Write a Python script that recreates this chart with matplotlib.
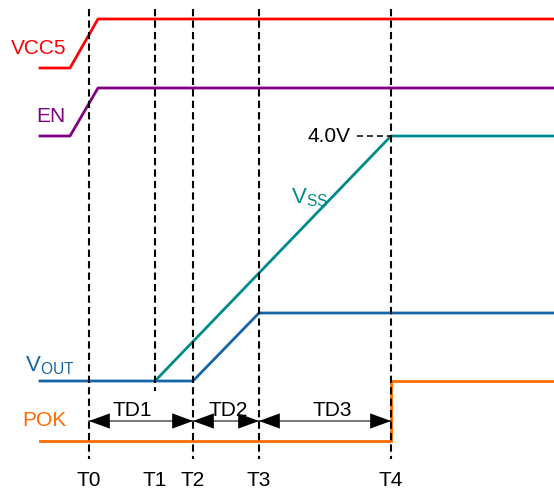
import matplotlib.pyplot as plt
from matplotlib.patches import FancyArrowPatch

plt.rcParams['font.family'] = ['Liberation Sans', 'DejaVu Sans']
plt.rcParams['mathtext.fontset'] = 'custom'
plt.rcParams['mathtext.rm'] = 'Liberation Sans'

# time markers (x) and signal traces, in diagram units
tick_names = ['T0', 'T1', 'T2', 'T3', 'T4']
tick_pos = [89, 155, 193, 259, 391]
tick_bottom = [460, 392, 460, 460, 460]

vcc5_t = [40, 70, 98, 554]
vcc5_v = [69, 69, 20, 20]
en_t = [40, 70, 98, 554]
en_v = [137, 137, 89, 89]
vss_t = [155, 391, 554]
vss_v = [382, 137, 137]
vout_t = [40, 193, 259, 554]
vout_v = [382, 382, 314, 314]
pok_t = [40, 391, 391, 554]
pok_v = [442, 442, 382, 382]

delays = ['TD1', 'TD2', 'TD3']
delay_start = [89, 193, 259]
delay_end = [193, 259, 391]
delay_label_x = [132, 228, 332]

RED = '#ff0000'
PURPLE = '#800080'
TEAL = '#008b8b'
BLUE = '#1565a8'
ORANGE = '#ff6a00'

fig = plt.figure(figsize=(5.54, 4.89), dpi=100)
ax = fig.add_axes([0, 0, 1, 1])
ax.set_xlim(0, 554)
ax.set_ylim(489, 0)
ax.axis('off')

lw = 2.0
ax.plot(vcc5_t, vcc5_v, color=RED, lw=lw)
ax.plot(en_t, en_v, color=PURPLE, lw=lw)
ax.plot(vss_t, vss_v, color=TEAL, lw=lw)
ax.plot(vout_t, vout_v, color=BLUE, lw=lw)
ax.plot(pok_t, pok_v, color=ORANGE, lw=lw, solid_joinstyle='miter')

fs = 15

# dashed time markers
for name, x, yb in zip(tick_names, tick_pos, tick_bottom):
    ax.plot([x, x], [10, yb], color='black', lw=1.5, ls=(0, (3.5, 2)), zorder=5)
    ax.text(x, 480, name, ha='center', va='center', fontsize=fs)

# 4.0V reference
ax.plot([357, vss_t[1]], [vss_v[1], vss_v[1]], color='black', lw=1.1, ls=(0, (4, 2.5)))
ax.text(350, vss_v[1], '4.0V', ha='right', va='center', fontsize=fs)

# delay arrows
for name, a, b, lx in zip(delays, delay_start, delay_end, delay_label_x):
    ax.plot([a, b], [422, 422], color='#555555', lw=1.1, zorder=4)
    arr = FancyArrowPatch((a, 422), (b, 422), arrowstyle='<|-|>,head_length=1.5,head_width=0.55',
                          mutation_scale=10, color='black', lw=0, shrinkA=0, shrinkB=0, zorder=6)
    ax.add_patch(arr)
    ax.text(lx, 411, name, ha='center', va='center', fontsize=fs)

# signal labels
ax.text(66, 48, 'VCC5', color=RED, ha='right', va='center', fontsize=fs)
ax.text(66, 117, 'EN', color=PURPLE, ha='right', va='center', fontsize=fs)
ax.text(66, 421, 'POK', color=ORANGE, ha='right', va='center', fontsize=fs)
ax.text(25, 371, r'$\mathregular{V_{OUT}}$', color=BLUE, ha='left', va='baseline', fontsize=16)
ax.text(291, 203, r'$\mathregular{V_{SS}}$', color=TEAL, ha='left', va='baseline', fontsize=16)

fig.savefig('out.png', dpi=100)
